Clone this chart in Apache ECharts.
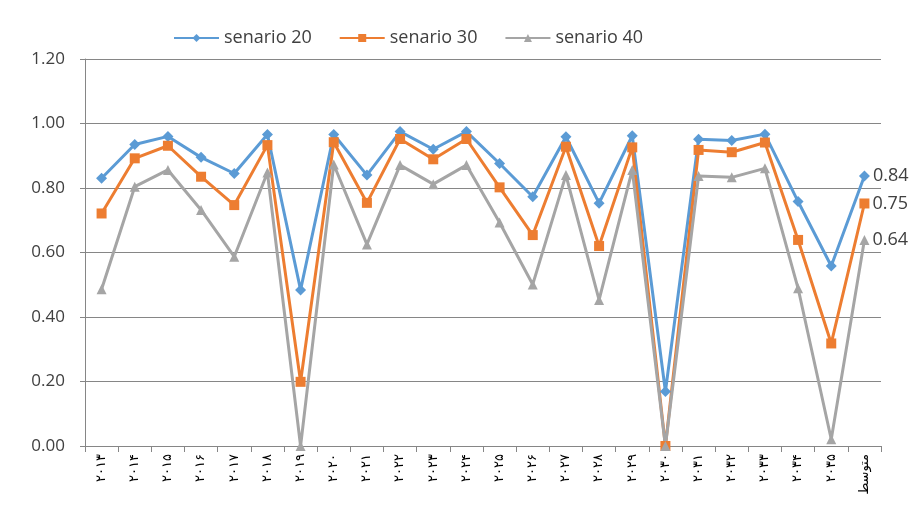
<!DOCTYPE html>
<html>
<head>
<meta charset="utf-8">
<script src="https://cdn.jsdelivr.net/npm/echarts@6/dist/echarts.min.js"></script>
<style>
  html, body { margin: 0; padding: 0; background: #fff; }
  #chart { width: 912px; height: 521px; }
</style>
</head>
<body>
<div id="chart"></div>
<script>
// سال‌ها + میانگین
var categories = [
  "۲۰۱۳", "۲۰۱۴", "۲۰۱۵", "۲۰۱۶", "۲۰۱۷", "۲۰۱۸", "۲۰۱۹", "۲۰۲۰",
  "۲۰۲۱", "۲۰۲۲", "۲۰۲۳", "۲۰۲۴", "۲۰۲۵", "۲۰۲۶", "۲۰۲۷", "۲۰۲۸",
  "۲۰۲۹", "۲۰۳۰", "۲۰۳۱", "۲۰۳۲", "۲۰۳۳", "۲۰۳۴", "۲۰۳۵", "متوسط"
];
var senario20 = [0.83, 0.935, 0.96, 0.895, 0.845, 0.966, 0.484, 0.966, 0.84, 0.975, 0.92, 0.975,
  0.876, 0.773, 0.959, 0.753, 0.962, 0.169, 0.951, 0.947, 0.967, 0.758, 0.558, 0.837];
var senario30 = [0.721, 0.892, 0.931, 0.835, 0.747, 0.933, 0.199, 0.942, 0.754, 0.952, 0.889, 0.952,
  0.802, 0.654, 0.928, 0.62, 0.926, 0.0, 0.918, 0.911, 0.941, 0.639, 0.318, 0.752];
var senario40 = [0.486, 0.804, 0.856, 0.732, 0.587, 0.848, 0.0, 0.873, 0.625, 0.871, 0.812, 0.871,
  0.693, 0.501, 0.84, 0.453, 0.856, 0.0, 0.837, 0.833, 0.861, 0.489, 0.021, 0.639];

var chart = echarts.init(document.getElementById("chart"));

function makeSeries(name, data, color, symbol, size) {
  return {
    name: name,
    type: "line",
    data: data,
    symbol: symbol,
    symbolSize: size,
    lineStyle: { color: color, width: 3 },
    itemStyle: { color: color },
    // only the average (last point) gets a value label
    label: {
      show: true,
      position: "right",
      distance: 3,
      fontSize: 18,
      color: "#404040",
      formatter: function (p) {
        return p.dataIndex === data.length - 1 ? p.value.toFixed(2) : "";
      }
    }
  };
}

var option = {
  animation: false,
  textStyle: { fontFamily: "Open Sans" },
  legend: {
    top: 24,
    left: 168,
    itemWidth: 45,
    itemHeight: 10,
    itemGap: 27,
    textStyle: { fontSize: 18, color: "#404040" },
    data: ["senario 20", "senario 30", "senario 40"]
  },
  grid: { left: 85, right: 31, top: 59, bottom: 75 },
  xAxis: {
    type: "category",
    data: categories,
    axisLine: { lineStyle: { color: "#868686", width: 1 } },
    axisTick: { show: true, length: 6, lineStyle: { color: "#868686" } },
    axisLabel: {
      interval: 0,
      rotate: 90,
      fontSize: 13,
      color: "#000",
      fontFamily: "DejaVu Sans",
      margin: 8
    }
  },
  yAxis: {
    type: "value",
    min: 0,
    max: 1.2,
    interval: 0.2,
    axisLine: { show: true, lineStyle: { color: "#868686" } },
    axisTick: { show: true, length: 5, lineStyle: { color: "#868686" } },
    splitLine: { lineStyle: { color: "#868686", width: 1 } },
    axisLabel: {
      fontSize: 17,
      color: "#404040",
      margin: 20,
      formatter: function (v) { return v.toFixed(2); }
    }
  },
  series: [
    makeSeries("senario 20", senario20, "#5B9BD5", "diamond", 11),
    makeSeries("senario 30", senario30, "#ED7D31", "rect", 10),
    makeSeries("senario 40", senario40, "#A5A5A5", "triangle", 10)
  ]
};

chart.setOption(option);
</script>
</body>
</html>
